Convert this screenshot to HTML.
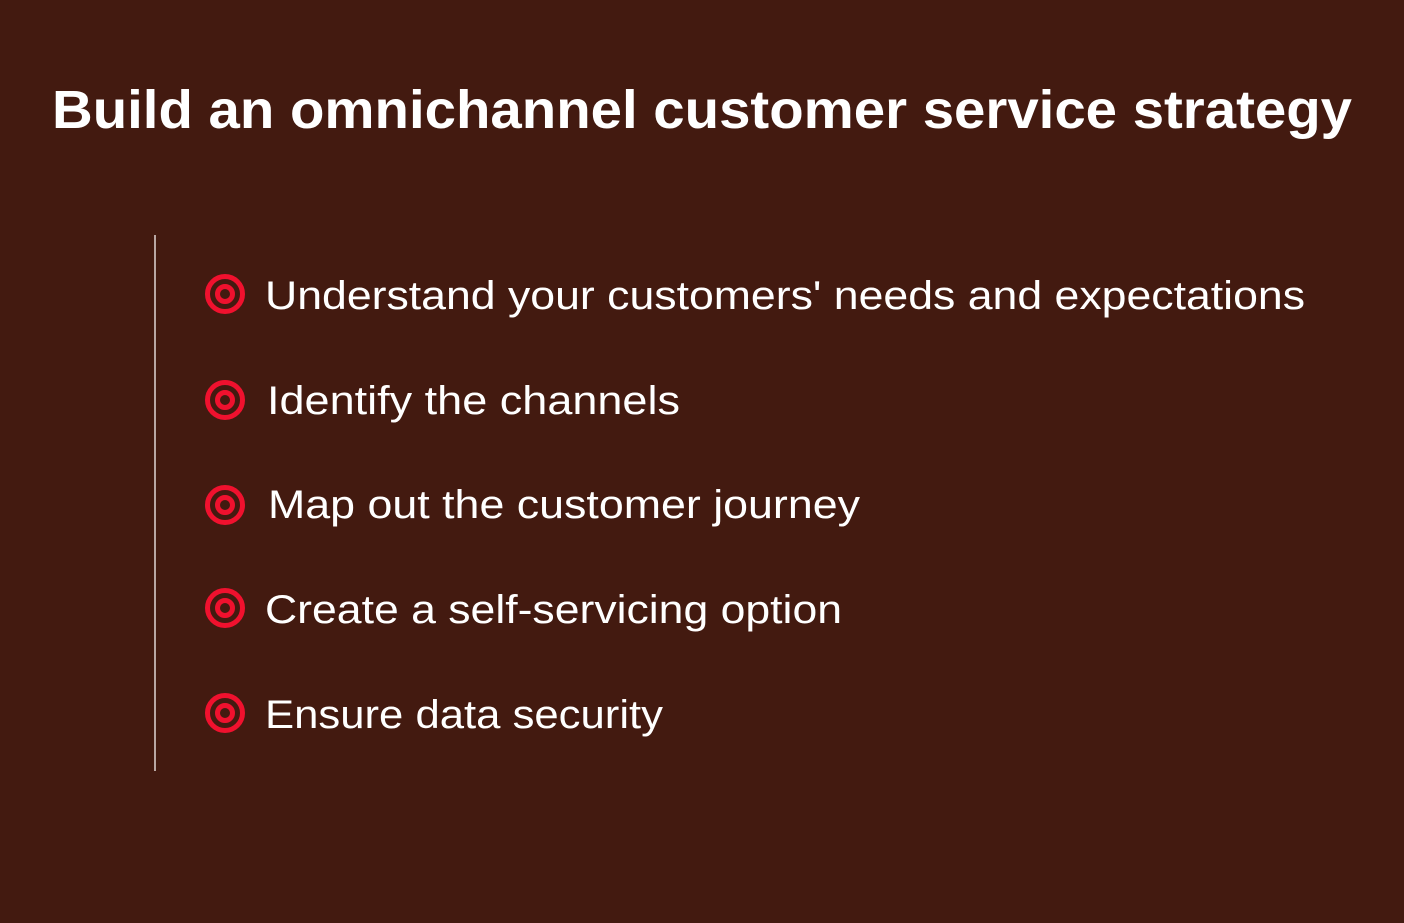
<!DOCTYPE html>
<html><head><meta charset="utf-8"><style>
html,body{margin:0;padding:0;background:#431a10;}
svg{display:block}
</style></head><body>
<svg width="1404" height="923" viewBox="0 0 1404 923" xmlns="http://www.w3.org/2000/svg">
<rect width="1404" height="923" fill="#431a10"/>
<text x="52" y="128" font-family="Liberation Sans, sans-serif" font-weight="bold" font-size="54" fill="#fff" textLength="1300" lengthAdjust="spacingAndGlyphs">Build an omnichannel customer service strategy</text>
<line x1="155" y1="235" x2="155" y2="771" stroke="#b9a7a3" stroke-width="2"/>
<g fill="none" stroke="#f0112e" stroke-width="5">
<circle cx="225" cy="294" r="17.5"/><circle cx="225" cy="294" r="7.5"/>
<circle cx="225" cy="400" r="17.5"/><circle cx="225" cy="400" r="7.5"/>
<circle cx="225" cy="505" r="17.5"/><circle cx="225" cy="505" r="7.5"/>
<circle cx="225" cy="608" r="17.5"/><circle cx="225" cy="608" r="7.5"/>
<circle cx="225" cy="713" r="17.5"/><circle cx="225" cy="713" r="7.5"/>
</g>
<g font-family="Liberation Sans, sans-serif" font-size="40" fill="#fff" lengthAdjust="spacingAndGlyphs">
<text x="265" y="309" textLength="1040" lengthAdjust="spacingAndGlyphs">Understand your customers' needs and expectations</text>
<text x="267" y="414" textLength="413" lengthAdjust="spacingAndGlyphs">Identify the channels</text>
<text x="268" y="518" textLength="592" lengthAdjust="spacingAndGlyphs">Map out the customer journey</text>
<text x="265" y="623" textLength="577" lengthAdjust="spacingAndGlyphs">Create a self-servicing option</text>
<text x="265" y="728" textLength="398" lengthAdjust="spacingAndGlyphs">Ensure data security</text>
</g>
</svg>
</body></html>
